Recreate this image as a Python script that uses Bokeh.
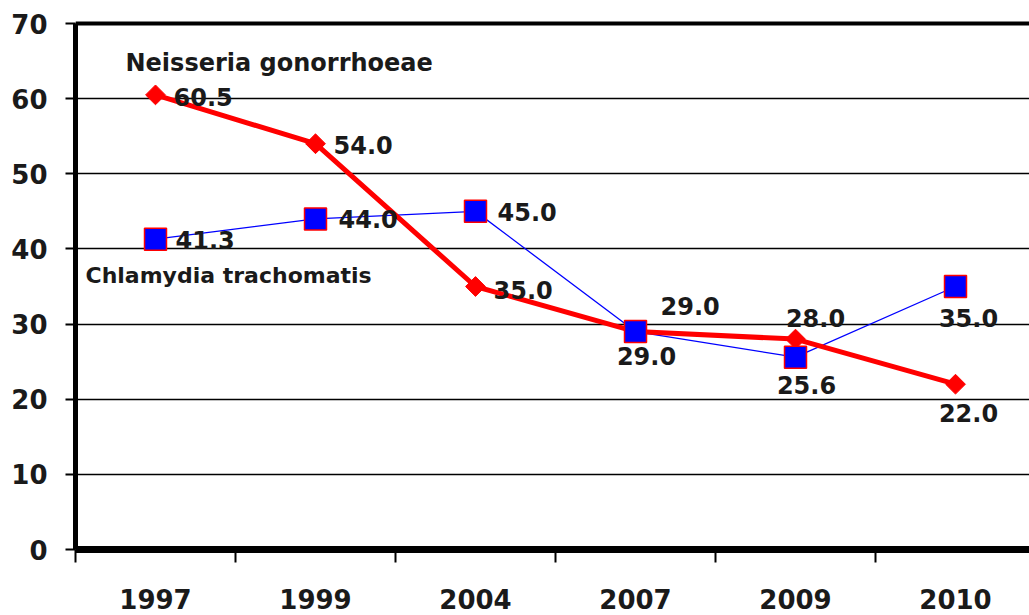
import math
from bokeh.plotting import figure
from bokeh.models import Range1d, FixedTicker, ColumnDataSource, Label, Span
from bokeh.core.properties import value
from bokeh.embed import file_html
from bokeh.resources import INLINE

# ---- data ----
years = ["1997", "1999", "2004", "2007", "2009", "2010"]
neisseria = [60.5, 54.0, 35.0, 29.0, 28.0, 22.0]
chlamydia = [41.3, 44.0, 45.0, 29.0, 25.6, 35.0]
y_ticks = [0, 10, 20, 30, 40, 50, 60, 70]

# ---- label placement (styling only): (dx px, dy px, align) ----
ng_label_pos = [(18, 2, "left"), (18, 1, "left"), (18, 3, "left"),
                (25, -26, "left"), (20, -21, "center"), (13, 29, "center")]
ct_label_pos = [(20, 1, "left"), (23, 0, "left"), (22, 1, "left"),
                (11, 24, "center"), (11, 28, "center"), (13, 31, "center")]

FONT = "DejaVu Sans"
TXT = "#1a1a1a"

xs = [i + 0.5 for i in range(len(years))]

p = figure(width=1029, height=615, output_backend="svg", toolbar_location=None,
           x_range=Range1d(0, 954 / 160), y_range=Range1d(0, 70.4),
           min_border_left=75, min_border_right=0, min_border_top=20,
           min_border_bottom=66)
p.outline_line_color = None
p.background_fill_color = "white"
p.border_fill_color = "white"
p.xgrid.visible = False

# y grid
p.ygrid.ticker = FixedTicker(ticks=y_ticks)
p.ygrid.grid_line_color = "#000000"
p.ygrid.grid_line_width = 1.5
p.add_layout(Span(location=70, dimension="width", line_color="#000000", line_width=4))

# x axis
xa = p.xaxis[0]
xa.ticker = FixedTicker(ticks=xs, minor_ticks=list(range(len(years) + 1)))
xa.major_label_overrides = {x: y for x, y in zip(xs, years)}
xa.major_tick_out = 0
xa.major_tick_in = 0
xa.minor_tick_out = 13
xa.minor_tick_in = 0
xa.minor_tick_line_width = 2
xa.minor_tick_line_color = "#000000"
xa.axis_line_width = 7
xa.axis_line_color = "#000000"
xa.major_label_standoff = 26
xa.major_label_text_font = FONT
xa.major_label_text_font_style = "bold"
xa.major_label_text_font_size = "26px"
xa.major_label_text_color = TXT

# y axis
ya = p.yaxis[0]
ya.ticker = FixedTicker(ticks=y_ticks)
ya.bounds = (0, 70)
ya.axis_line_width = 5
ya.axis_line_color = "#000000"
ya.major_tick_out = 10
ya.major_tick_in = 0
ya.major_tick_line_width = 2
ya.minor_tick_out = 0
ya.minor_tick_in = 0
ya.major_label_standoff = 18
ya.major_label_text_font = FONT
ya.major_label_text_font_style = "bold"
ya.major_label_text_font_size = "26px"
ya.major_label_text_color = TXT

# series
p.line(xs, chlamydia, line_color="#0000FF", line_width=1.3)
p.line(xs, neisseria, line_color="#FF0000", line_width=5)
p.scatter(xs, neisseria, marker="square", angle=math.pi / 4, size=14,
          fill_color="#FF0000", line_color="#FF0000")
p.scatter(xs, chlamydia, marker="square", size=22,
          fill_color="#0000FF", line_color="#FF0000", line_width=1.5)

# data labels
lx, ly, lt, ldx, ldy, lal = [], [], [], [], [], []
for vals, pos in ((neisseria, ng_label_pos), (chlamydia, ct_label_pos)):
    for x, v, (dx, dy, al) in zip(xs, vals, pos):
        lx.append(x); ly.append(v); lt.append(f"{v:.1f}")
        ldx.append(dx); ldy.append(dy); lal.append(al)
src = ColumnDataSource(dict(x=lx, y=ly, text=lt, dx=ldx, dy=ldy, al=lal))
p.text(x="x", y="y", text="text", x_offset="dx", y_offset="dy", text_align="al",
       text_baseline="middle", text_font=value(FONT), text_font_style="bold",
       text_font_size="24px", text_color=TXT, source=src)

# series names
p.add_layout(Label(x=0.3125, y=64.7, text="Neisseria gonorrhoeae", text_baseline="middle",
                   text_font=FONT, text_font_style="bold", text_font_size="24px",
                   text_color=TXT))
p.add_layout(Label(x=0.0625, y=36.5, text="Chlamydia trachomatis", text_baseline="middle",
                   text_font=FONT, text_font_style="bold", text_font_size="22px",
                   text_color=TXT))

open("out.html", "w").write(file_html(p, INLINE))
